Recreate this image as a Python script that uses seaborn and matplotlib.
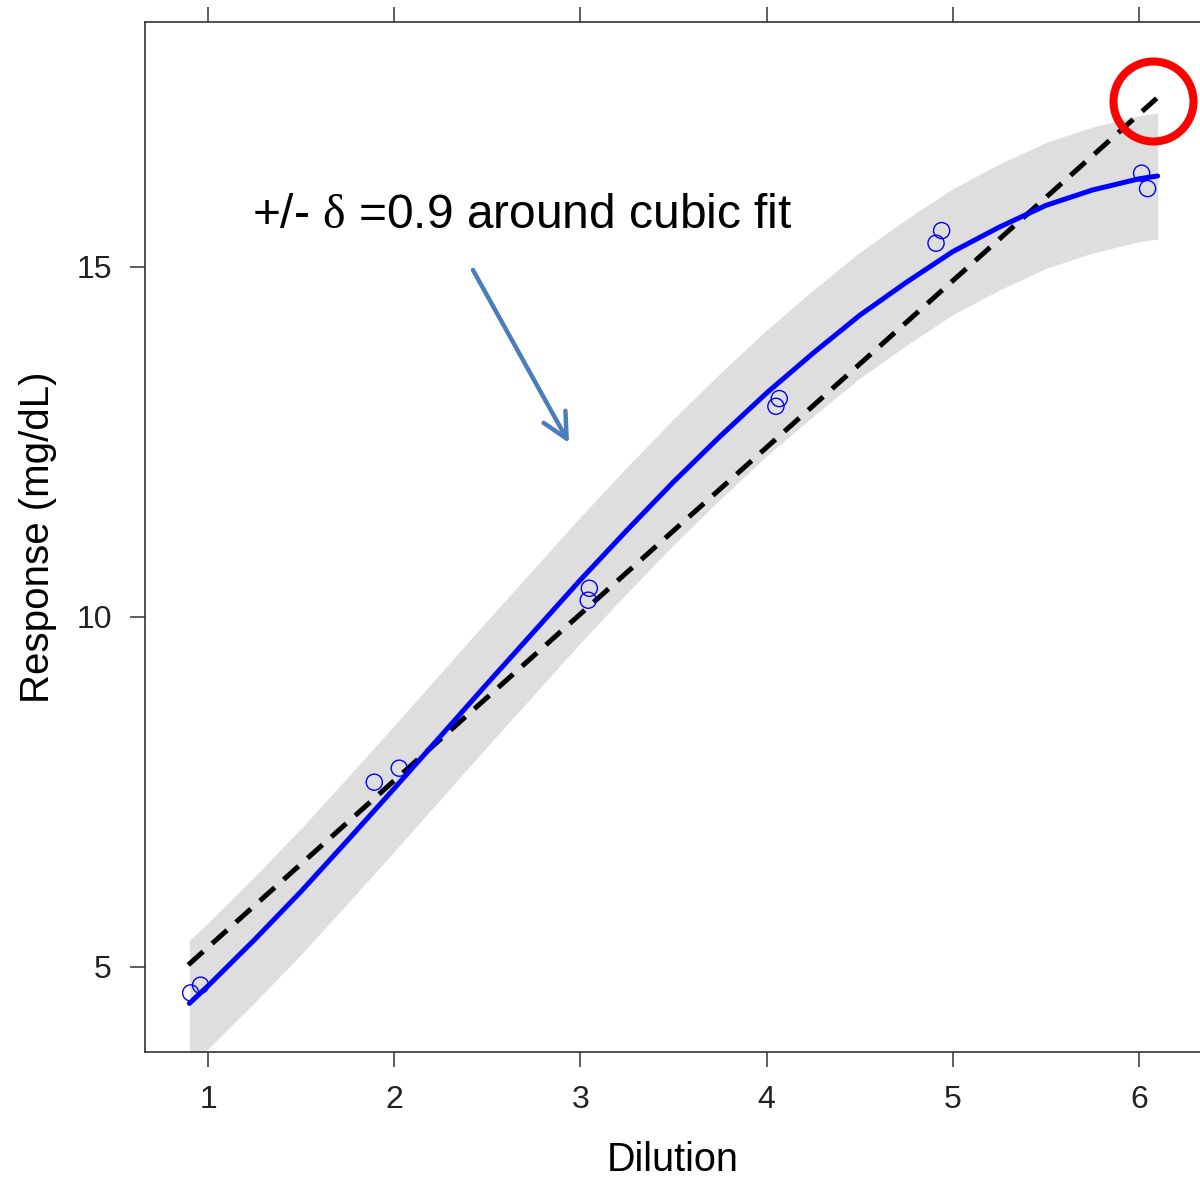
import numpy as np
import pandas as pd
import matplotlib
matplotlib.use("Agg")
import matplotlib.pyplot as plt
import seaborn as sns

# ---- data ----
obs_x = [0.907, 0.960, 1.893, 2.027, 3.048, 3.042, 4.068, 4.050, 4.940, 4.910, 6.014, 6.046]
obs_y = [4.63, 4.74, 7.64, 7.84, 10.41, 10.24, 13.12, 13.01, 15.52, 15.34, 16.34, 16.12]

fit_x = [0.90, 1.00, 1.25, 1.50, 1.75, 2.00, 2.25, 2.50, 2.75, 3.00, 3.25, 3.50,
         3.75, 4.00, 4.25, 4.50, 4.75, 5.00, 5.25, 5.50, 5.75, 6.00, 6.10]
fit_y = [4.48, 4.73, 5.39, 6.08, 6.81, 7.55, 8.30, 9.05, 9.79, 10.53, 11.24, 11.93,
         12.58, 13.20, 13.77, 14.31, 14.78, 15.22, 15.57, 15.88, 16.10, 16.26, 16.30]

ref_x = [0.894, 6.095]
ref_y = [5.03, 17.41]

delta = 0.9
x_ticks = [1, 2, 3, 4, 5, 6]
y_ticks = [5, 10, 15]
annot_text = "+/- $\\mathrm{\\delta}$ =0.9 around cubic fit"

# ---- styling ----
sns.set_style("ticks")
plt.rcParams["font.family"] = ["Liberation Sans", "DejaVu Sans"]
plt.rcParams["mathtext.fontset"] = "custom"
plt.rcParams["mathtext.rm"] = "Liberation Serif"
plt.rcParams["mathtext.it"] = "Liberation Serif"

W, H = 1200, 1178
fig = plt.figure(figsize=(W / 100, H / 100), dpi=100)
ax_left, ax_right, ax_top, ax_bottom = 145, 1205, 22, 1052
ax = fig.add_axes([ax_left / W, (H - ax_bottom) / H,
                   (ax_right - ax_left) / W, (ax_bottom - ax_top) / H])

fit_df = pd.DataFrame({"x": fit_x, "y": fit_y})
fit_df["lo"] = fit_df["y"] - delta
fit_df["hi"] = fit_df["y"] + delta

# band
ax.fill_between(fit_df["x"], fit_df["lo"], fit_df["hi"], color="#DEDEDE", lw=0, zorder=1)

# reference dashed line
sns.lineplot(x=ref_x, y=ref_y, ax=ax, color="black", lw=3.6,
             linestyle=(0, (4.0, 2.4)), zorder=3)

# cubic fit
sns.lineplot(data=fit_df, x="x", y="y", ax=ax, color="#0000FF", lw=3.6,
             zorder=4, sort=False)

# observations
sns.scatterplot(x=obs_x, y=obs_y, ax=ax, s=135, marker="o",
                facecolors="none", edgecolor="#0000FF", linewidth=1.0, zorder=5)

# red highlight circle at the end of the dashed line
ax.plot([6.075], [17.37], marker="o", markersize=57.6, markerfacecolor="none",
        markeredgecolor="#FF0000", markeredgewidth=5.8, zorder=6, clip_on=False)

# annotation and arrow
ax.text(1.236, 15.557, annot_text, fontsize=34.5, va="baseline", ha="left",
        color="black", zorder=7)
ax.annotate("", xy=(2.939, 12.486), xytext=(2.423, 14.957),
            arrowprops=dict(arrowstyle="->, head_length=0.6, head_width=0.3",
                            color="#4A7EBB", lw=3.2, mutation_scale=30,
                            shrinkA=0, shrinkB=0), zorder=7)

# axes
ax.set_xlim(1 - 63 / 186.2, 1 + (ax_right - 208) / 186.2)
ax.set_ylim(5 - 85 / 70, 15 + 245 / 70)
ax.set_xticks(x_ticks)
ax.set_yticks(y_ticks)
ax.set_xticklabels([str(t) for t in x_ticks])
ax.set_yticklabels([str(t) for t in y_ticks])
ax.tick_params(axis="both", which="major", direction="out", length=10.8, width=1.1,
               color="#333333", labelsize=23, labelcolor="#222222", pad=13)
ax.tick_params(axis="x", top=True, labeltop=False)
ax.tick_params(axis="y", right=False)
for sp in ax.spines.values():
    sp.set_color("#333333")
    sp.set_linewidth(1.2)

ax.set_xlabel("Dilution", fontsize=28.5, color="black")
ax.set_ylabel("Response (mg/dL)", fontsize=29, color="black")
axw, axh = ax_right - ax_left, ax_bottom - ax_top
ax.xaxis.set_label_coords((673 - ax_left) / axw, (ax_bottom - 1141) / axh)
ax.yaxis.set_label_coords((57 - ax_left) / axw, (ax_bottom - 537) / axh)

fig.savefig("out.png", dpi=100)
